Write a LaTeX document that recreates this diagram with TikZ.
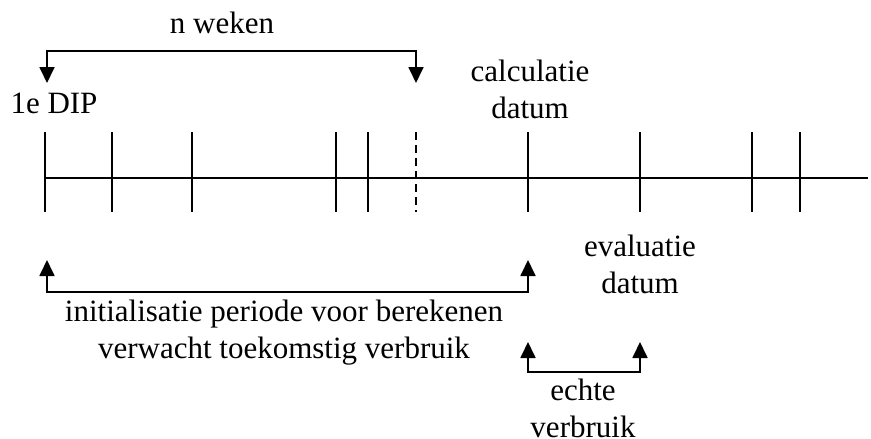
\documentclass[tikz,border=0pt]{standalone}
\usepackage{fontspec}
\setmainfont{Liberation Serif}
\usetikzlibrary{arrows.meta}

\begin{document}
\begin{tikzpicture}[x=1pt, y=-1pt, line width=1.8pt,
    lbl/.style={font=\fontsize{31}{37}\selectfont, align=center, inner sep=0pt, anchor=base},
    tickline/.style={line width=1.8pt},
    brace/.style={line width=1.8pt, {Triangle[width=15pt,length=16pt]}-{Triangle[width=15pt,length=16pt]}}]
    \useasboundingbox (0,0) rectangle (871,439);

    % tijdlijn
    \coordinate (start) at (45,178);
    \coordinate (end) at (868,178);
    \draw[tickline] (start) -- (end);
    \foreach \x/\n in {45/t1, 112/t2, 192/t3, 336/t4, 368/t5, 528/t6, 640/t7, 752/t8, 800/t9} {
        \coordinate (\n a) at (\x,132);
        \coordinate (\n b) at (\x,212);
        \draw[tickline] (\n a) -- (\n b);
    }
    \coordinate (nua) at (416,132);
    \coordinate (nub) at (416,212);
    \draw[tickline, dash pattern=on 8pt off 5pt] (nua) -- (nub);

    % labels (base = laatste regel)
    \node[lbl] (nweken) at (222,33) {n weken};
    \node[lbl] (dip) at (54,113) {1e DIP};
    \node[lbl] (calc) at (530,118) {calculatie\\datum};
    \node[lbl] (eval) at (640,293) {evaluatie\\datum};
    \node[lbl] (init) at (284,358) {initialisatie periode voor berekenen\\verwacht toekomstig verbruik};
    \node[lbl] (echte) at (583,437) {echte\\verbruik};

    % haken
    \coordinate (topL) at (47,83);
    \coordinate (topR) at (416,83);
    \coordinate (topbar) at (0,51);
    \draw[brace] (topL) -- (topL |- topbar) -- (topR |- topbar) -- (topR);

    \coordinate (initL) at (47,260);
    \coordinate (initR) at (528,260);
    \coordinate (initbar) at (0,292);
    \draw[brace] (initL) -- (initL |- initbar) -- (initR |- initbar) -- (initR);

    \coordinate (echL) at (528,342);
    \coordinate (echR) at (640,342);
    \coordinate (echbar) at (0,372);
    \draw[brace] (echL) -- (echL |- echbar) -- (echR |- echbar) -- (echR);
\end{tikzpicture}
\end{document}
